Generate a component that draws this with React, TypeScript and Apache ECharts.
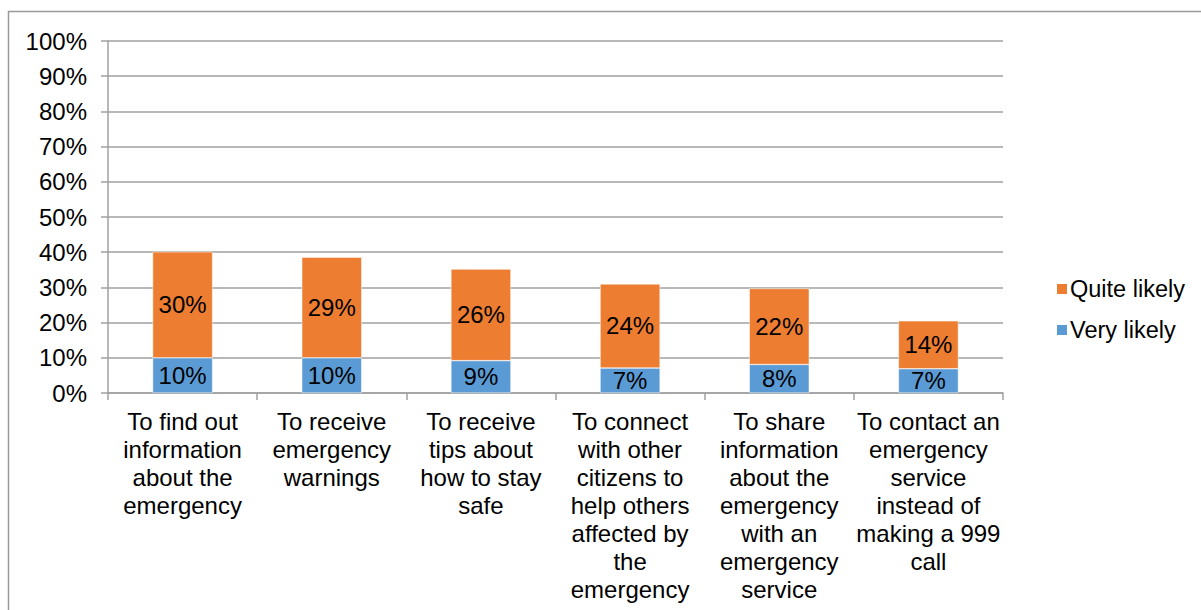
import React, { useEffect, useRef } from "react";
import * as echarts from "echarts";

const categoryLines: string[][] = [
  ["To find out", "information", "about the", "emergency"],
  ["To receive", "emergency", "warnings"],
  ["To receive", "tips about", "how to stay", "safe"],
  ["To connect", "with other", "citizens to", "help others", "affected by", "the", "emergency"],
  ["To share", "information", "about the", "emergency", "with an", "emergency", "service"],
  ["To contact an", "emergency", "service", "instead of", "making a 999", "call"],
];
const categories = categoryLines.map((l) => l.join("\n"));
const veryLikely = [10.0, 10.0, 9.2, 7.1, 8.1, 6.9];
const quiteLikely = [30.1, 28.6, 26.0, 23.9, 21.6, 13.6];
const yTicks = [0, 10, 20, 30, 40, 50, 60, 70, 80, 90, 100];

const FONT = "Liberation Sans, Arial, sans-serif";

export default function App() {
  const ref = useRef<HTMLDivElement>(null);
  useEffect(() => {
    document.body.style.margin = "0";
    if (!ref.current) return;
    const chart = echarts.init(ref.current, undefined, { renderer: "svg" });
    const labelStyle = {
      show: true,
      position: "inside" as const,
      color: "#000",
      fontFamily: FONT,
      fontSize: 24,
      formatter: (p: any) => Math.round(p.value) + "%",
    };
    chart.setOption({
      animation: false,
      backgroundColor: "#fff",
      textStyle: { fontFamily: FONT },
      grid: { left: 108, right: 198, top: 41, bottom: 217, containLabel: false },
      graphic: [
        {
          type: "rect",
          shape: { x: 8.5, y: 11.5, width: 1300, height: 700 },
          style: { fill: "none", stroke: "#999", lineWidth: 1.5 },
          silent: true,
          z: -1,
        },
      ],
      legend: {
        orient: "vertical",
        left: 1050,
        top: 272,
        itemWidth: 12,
        itemHeight: 12,
        itemGap: 17,
        icon: "rect",
        data: ["Quite likely", "Very likely"],
        textStyle: { fontFamily: FONT, fontSize: 23.5, color: "#000", lineHeight: 24, padding: [0, 0, 0, -3] },
      },
      xAxis: {
        type: "category",
        data: categories,
        axisLine: { lineStyle: { color: "#a0a0a0", width: 1.5 } },
        axisTick: { show: true, length: 7, lineStyle: { color: "#a0a0a0", width: 1.5 } },
        axisLabel: {
          interval: 0,
          margin: 14,
          color: "#000",
          fontFamily: FONT,
          fontSize: 24,
          lineHeight: 28,
          align: "center",
        },
      },
      yAxis: {
        type: "value",
        min: yTicks[0],
        max: yTicks[yTicks.length - 1],
        interval: 10,
        axisLine: { show: true, lineStyle: { color: "#a0a0a0", width: 1.5 } },
        axisTick: { show: true, length: 7, lineStyle: { color: "#a0a0a0", width: 1.5 } },
        splitLine: { show: true, lineStyle: { color: "#a0a0a0", width: 1.5 } },
        axisLabel: {
          margin: 21,
          color: "#000",
          fontFamily: FONT,
          fontSize: 24,
          formatter: (v: number) => v + "%",
        },
      },
      series: [
        {
          name: "Very likely",
          type: "bar",
          stack: "total",
          barWidth: 60,
          data: veryLikely,
          itemStyle: { color: "#5B9BD5", borderColor: "#fff", borderWidth: 0.5 },
          label: labelStyle,
        },
        {
          name: "Quite likely",
          type: "bar",
          stack: "total",
          barWidth: 60,
          data: quiteLikely,
          itemStyle: { color: "#ED7D31", borderColor: "#fff", borderWidth: 0.5 },
          label: labelStyle,
        },
      ],
    });
    return () => chart.dispose();
  }, []);
  return <div ref={ref} style={{ width: 1201, height: 610 }} />;
}
